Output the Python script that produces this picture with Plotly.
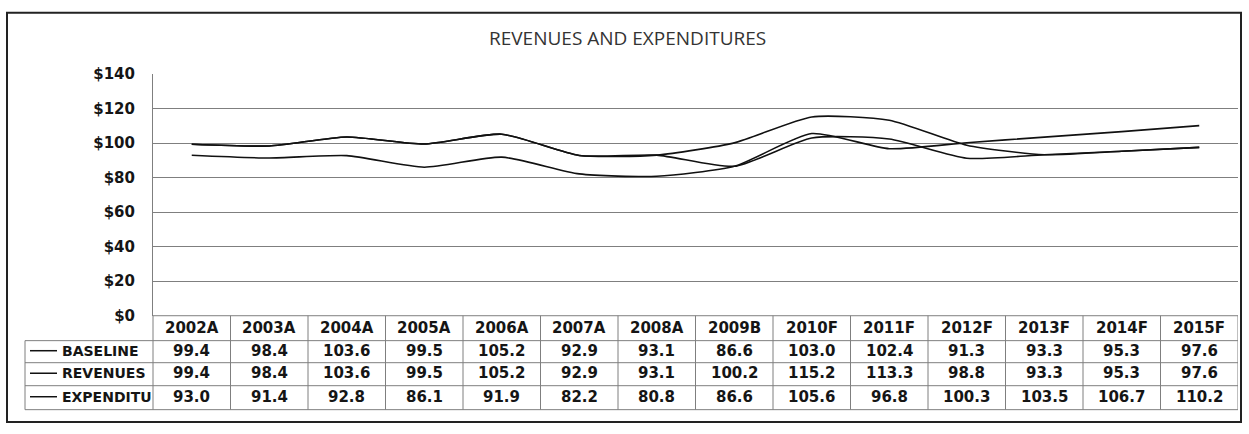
import plotly.graph_objects as go

# ---- data -------------------------------------------------------------
categories = ["2002A", "2003A", "2004A", "2005A", "2006A", "2007A", "2008A",
              "2009B", "2010F", "2011F", "2012F", "2013F", "2014F", "2015F"]
baseline = [99.4, 98.4, 103.6, 99.5, 105.2, 92.9, 93.1,
            86.6, 103.0, 102.4, 91.3, 93.3, 95.3, 97.6]
revenues = [99.4, 98.4, 103.6, 99.5, 105.2, 92.9, 93.1,
            100.2, 115.2, 113.3, 98.8, 93.3, 95.3, 97.6]
expenditures = [93.0, 91.4, 92.8, 86.1, 91.9, 82.2, 80.8,
                86.6, 105.6, 96.8, 100.3, 103.5, 106.7, 110.2]
series_names = ["BASELINE", "REVENUES", "EXPENDITURES"]
series_values = [baseline, revenues, expenditures]
y_ticks = [0, 20, 40, 60, 80, 100, 120, 140]
y_tick_text = ["&#36;" + str(v) for v in y_ticks]
title_text = "REVENUES AND EXPENDITURES"

# ---- geometry (pixels) ------------------------------------------------
W, H = 1249, 434
PLOT_L, PLOT_R, PLOT_T, PLOT_B = 153, 1238, 68, 320
TABLE_L = 25
ROW_EDGES = [320, 346, 369, 393, 418]   # header row + three data rows
LABEL_CHARS = 9                          # row-label cell clips long names


def fx(x):
    return x / W


def fy(y):
    return 1 - y / H


GRID = "#7f7f7f"
INK = "#151515"
BOLD = dict(family="DejaVu Sans", size=15, color=INK, weight="bold")
BOLD_LABEL = dict(family="DejaVu Sans", size=14, color=INK, weight="bold")

fig = go.Figure()

# lines drawn back to front so the baseline sits on top
for name, vals in reversed(list(zip(series_names, series_values))):
    fig.add_trace(go.Scatter(
        x=categories, y=vals, name=name, mode="lines",
        line=dict(color="#111111", width=1.6, shape="spline", smoothing=0.6),
        showlegend=False, hoverinfo="x+y+name",
    ))

shapes = []
annotations = []

# outer chart border
shapes.append(dict(type="rect", xref="paper", yref="paper",
                   x0=fx(7), x1=fx(1241), y0=fy(4), y1=fy(431),
                   line=dict(color="#222222", width=2)))

# data-table horizontal rules
shapes.append(dict(type="line", xref="paper", yref="paper",
                   x0=fx(PLOT_L), x1=fx(PLOT_R), y0=fy(ROW_EDGES[0]), y1=fy(ROW_EDGES[0]),
                   line=dict(color=GRID, width=1)))
for yy in ROW_EDGES[1:]:
    shapes.append(dict(type="line", xref="paper", yref="paper",
                       x0=fx(TABLE_L), x1=fx(PLOT_R), y0=fy(yy), y1=fy(yy),
                       line=dict(color=GRID, width=1)))

# vertical rules: row-label column, y-axis line extension, category columns
shapes.append(dict(type="line", xref="paper", yref="paper",
                   x0=fx(TABLE_L), x1=fx(TABLE_L), y0=fy(ROW_EDGES[1]), y1=fy(ROW_EDGES[-1]),
                   line=dict(color=GRID, width=1)))
shapes.append(dict(type="line", xref="paper", yref="paper",
                   x0=fx(PLOT_L), x1=fx(PLOT_L), y0=fy(ROW_EDGES[0]), y1=fy(ROW_EDGES[-1]),
                   line=dict(color=GRID, width=1)))
for i in range(len(categories)):
    shapes.append(dict(type="line", xref="x", yref="paper",
                       x0=i + 0.5, x1=i + 0.5, y0=fy(ROW_EDGES[0]), y1=fy(ROW_EDGES[-1]),
                       line=dict(color=GRID, width=1)))

# header row: category labels
hdr_y = fy((ROW_EDGES[0] + ROW_EDGES[1]) / 2 - 0.5)
for cat in categories:
    annotations.append(dict(x=cat, y=hdr_y, xref="x", yref="paper",
                            text=cat, showarrow=False, font=BOLD,
                            xanchor="center", yanchor="middle"))

# data rows: legend key, series name, values
for r, (name, vals) in enumerate(zip(series_names, series_values)):
    yc_px = (ROW_EDGES[r + 1] + ROW_EDGES[r + 2]) / 2 - 1
    yc = fy(yc_px)
    shapes.append(dict(type="line", xref="paper", yref="paper",
                       x0=fx(30), x1=fx(57), y0=yc, y1=yc,
                       line=dict(color="#111111", width=1.5)))
    annotations.append(dict(x=fx(60), y=yc, xref="paper", yref="paper",
                            text=name[:LABEL_CHARS], showarrow=False, font=BOLD_LABEL,
                            xanchor="left", yanchor="middle"))
    for cat, v in zip(categories, vals):
        annotations.append(dict(x=cat, y=yc, xref="x", yref="paper",
                                text=f"{v:.1f}", showarrow=False, font=BOLD,
                                xanchor="center", yanchor="middle"))

# chart title
annotations.append(dict(x=fx(627), y=fy(30), xref="paper", yref="paper",
                        text=title_text, showarrow=False,
                        font=dict(family="Open Sans", size=19, color="#333333"),
                        xanchor="center", yanchor="middle"))

fig.update_layout(
    width=W, height=H,
    margin=dict(l=0, r=0, t=0, b=0),
    paper_bgcolor="white", plot_bgcolor="white",
    xaxis=dict(type="category", categoryorder="array", categoryarray=categories,
               range=[-0.5, len(categories) - 0.5],
               domain=[fx(PLOT_L), fx(PLOT_R)],
               showgrid=False, showticklabels=False, showline=False,
               zeroline=False, ticks=""),
    yaxis=dict(range=[0, 140], tickmode="array", tickvals=y_ticks, ticktext=y_tick_text,
               domain=[fy(PLOT_B), fy(PLOT_T)],
               showgrid=True, gridcolor=GRID, gridwidth=1,
               showline=True, linecolor=GRID, linewidth=1,
               zeroline=False, ticks="outside", ticklen=14,
               tickcolor="rgba(0,0,0,0)", tickfont=BOLD),
    shapes=shapes,
    annotations=annotations,
)

fig.write_html("out.html")
